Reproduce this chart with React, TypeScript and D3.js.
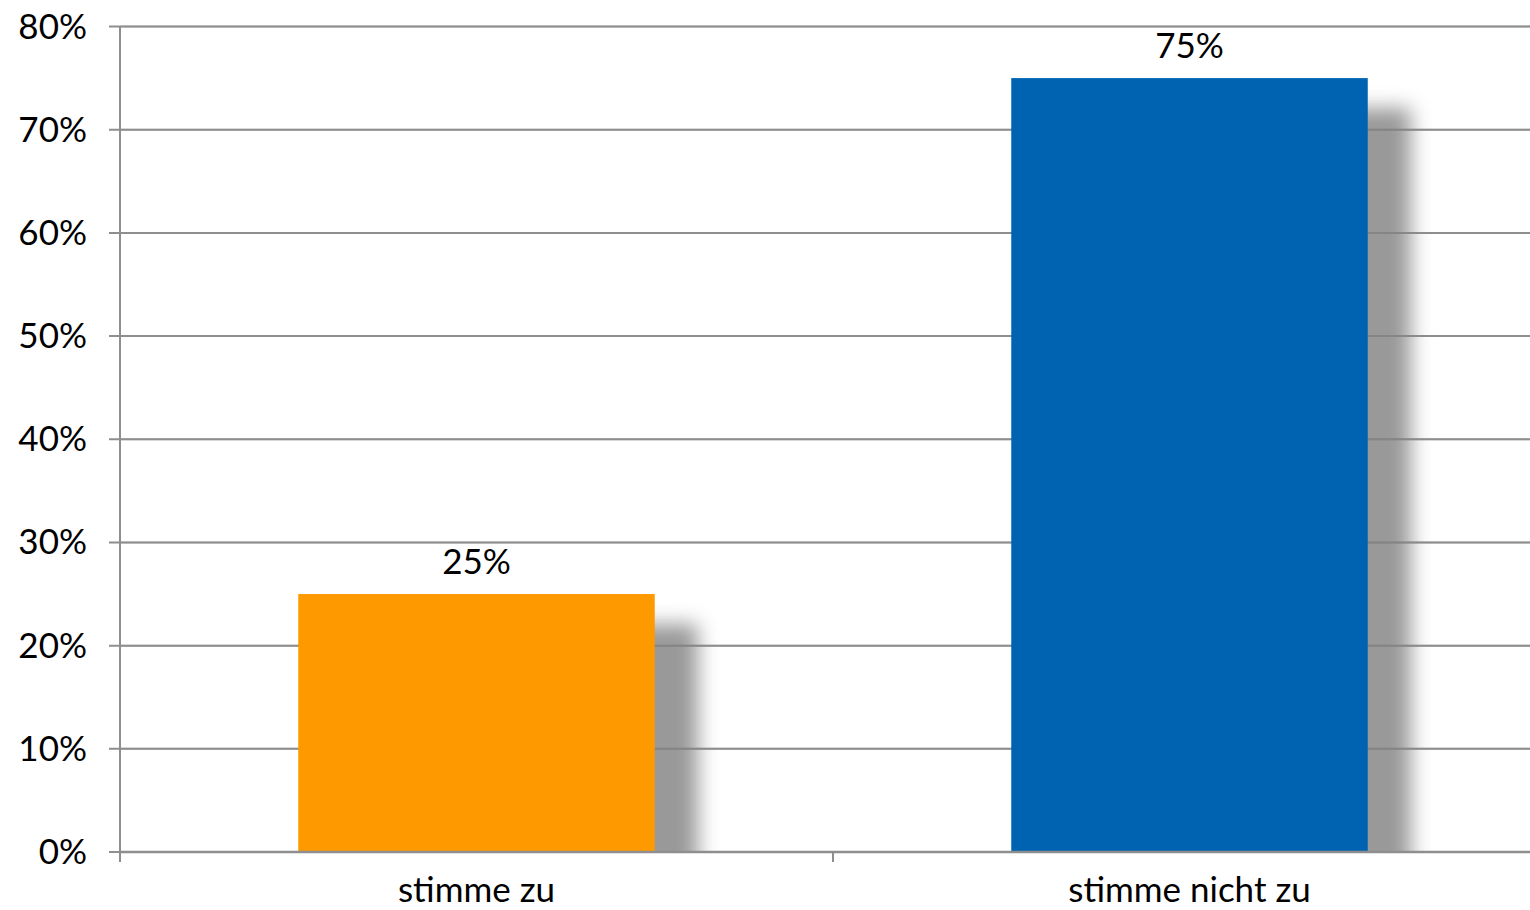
import React from "react";
import * as d3 from "d3";

const categories = ["stimme zu", "stimme nicht zu"];
const values = [25, 75];
const colors = ["#FF9900", "#0063B1"];
const yTicks = [0, 10, 20, 30, 40, 50, 60, 70, 80];

const W = 1530, H = 910;
const left = 120, right = 1546, gridRight = 1530, top = 26.5, bottom = 852;

export default function App() {
  const x = d3.scaleBand<string>().domain(categories).range([left, right]).paddingInner(0.5).paddingOuter(0.25);
  const y = d3.scaleLinear().domain([0, 80]).range([bottom, top]);
  const font = "Lato, 'Open Sans', sans-serif";
  const axisColor = "#8e8e8e";
  return (
    <svg width={W} height={H} style={{ position: "absolute", left: 0, top: 0, background: "#fff" }}>
      <defs>
        <filter id="blur" x="-50%" y="-50%" width="200%" height="200%">
          <feGaussianBlur stdDeviation="10" />
        </filter>
        <clipPath id="plotclip">
          <rect x={left} y={0} width={gridRight - left} height={bottom} />
        </clipPath>
      </defs>
      {yTicks.map((t) => (
        <g key={t}>
          <line x1={109} x2={gridRight} y1={y(t)} y2={y(t)} stroke={axisColor} strokeWidth={2} />
          <text x={87} y={y(t) + 12} textAnchor="end" fontFamily={font} fontSize={35} fill="#000">
            {t}%
          </text>
        </g>
      ))}
      <g clipPath="url(#plotclip)">
        {categories.map((c, i) => (
          <rect
            key={"s" + c}
            x={(x(c) as number) + 25}
            y={y(values[i]) + 30}
            width={x.bandwidth() + 18}
            height={bottom - y(values[i])}
            fill="#777"
            opacity={0.75}
            filter="url(#blur)"
          />
        ))}
      </g>
      {yTicks.slice(1).map((t) => (
        <line key={"g" + t} x1={left} x2={gridRight} y1={y(t)} y2={y(t)} stroke={axisColor} strokeWidth={2} opacity={0.5} />
      ))}
      {categories.map((c, i) => (
        <g key={c}>
          <rect x={x(c)} y={y(values[i])} width={x.bandwidth()} height={bottom - y(values[i])} fill={colors[i]} />
          <text x={(x(c) as number) + x.bandwidth() / 2} y={y(values[i]) - 20} textAnchor="middle" fontFamily={font} fontSize={35} fill="#000">
            {values[i]}%
          </text>
          <text x={(x(c) as number) + x.bandwidth() / 2} y={902} textAnchor="middle" fontFamily={font} fontSize={35} fill="#000">
            {c}
          </text>
        </g>
      ))}
      <line x1={left} x2={left} y1={top} y2={862} stroke={axisColor} strokeWidth={2} />
      <line x1={left} x2={gridRight} y1={bottom} y2={bottom} stroke={axisColor} strokeWidth={2.5} />
      {[left, (left + right) / 2, right].map((v) => (
        <line key={"t" + v} x1={v} x2={v} y1={bottom} y2={862} stroke={axisColor} strokeWidth={2} />
      ))}
    </svg>
  );
}
